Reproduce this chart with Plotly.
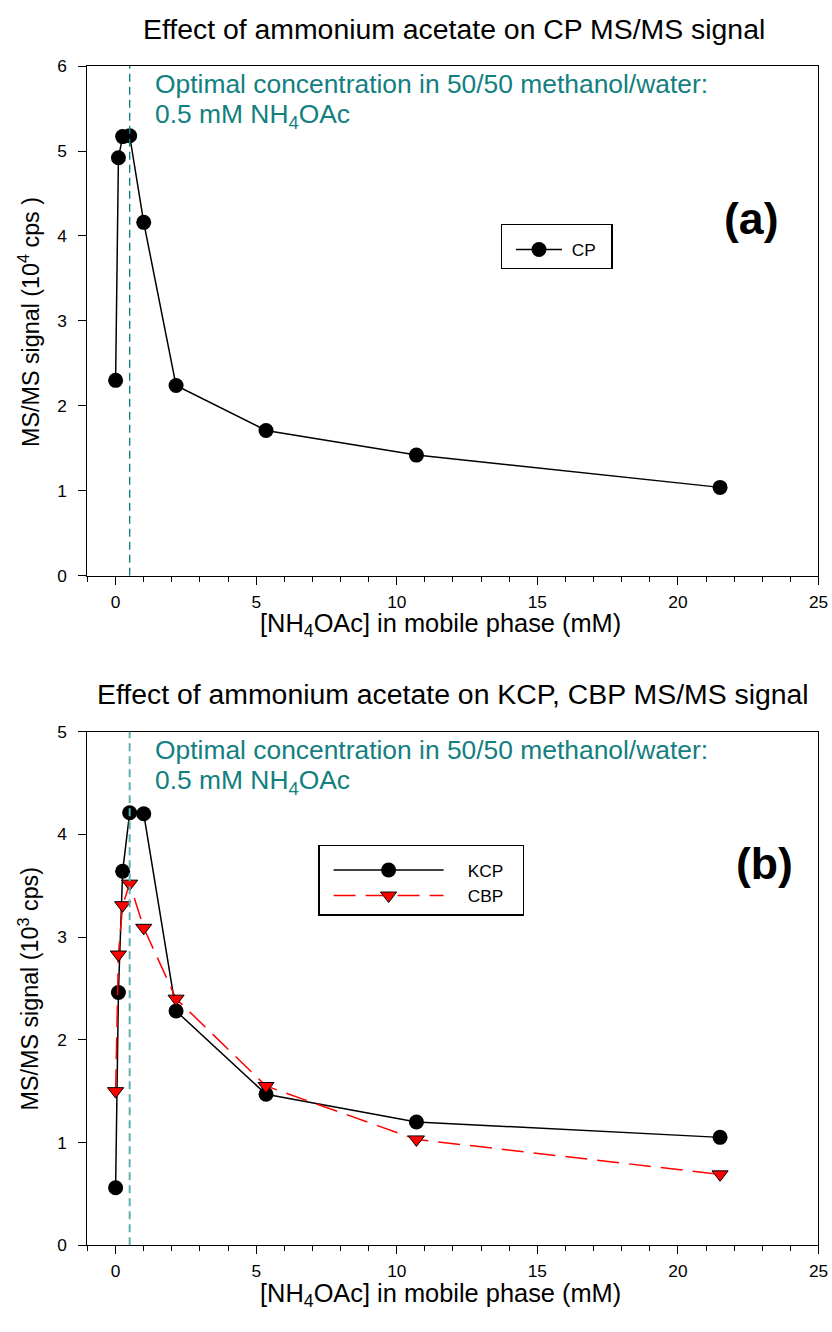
import plotly.graph_objects as go

# NH4OAc concentration in the mobile phase (mM)
conc = [0, 0.1, 0.25, 0.5, 1.0, 2.15, 5.35, 10.7, 21.5]

# MS/MS signal, panel (a) in 10^4 cps, panel (b) in 10^3 cps
cp = [2.30, 4.92, 5.17, 5.18, 4.16, 2.24, 1.71, 1.42, 1.04]
kcp = [0.56, 2.46, 3.64, 4.21, 4.20, 2.28, 1.47, 1.20, 1.05]
cbp = [1.50, 2.83, 3.31, 3.52, 3.09, 2.40, 1.55, 1.03, 0.69]

optimal_conc = 0.5
x_ticks = [0, 5, 10, 15, 20, 25]

# Figure size, and the factors between figure pixels and the displayed page
W, H = 832, 1316
SX, SY, TOP = 0.988, 0.9855, 8
FONT = "Arial, Liberation Sans, sans-serif"
TEAL = "#128080"
NB = "\u00a0"


def px(x):
    """Page x (px) -> paper fraction."""
    return (x / SX) / W


def py(y):
    """Page y (px) -> paper fraction."""
    return 1 - (y / SY - TOP) / H


def fs(size):
    return round(size / SY, 1)


fig = go.Figure()

fig.add_trace(go.Scatter(
    x=conc, y=cp, name=NB + "CP" + NB * 2, mode="lines+markers",
    line=dict(color="black", width=1.5),
    marker=dict(symbol="circle", size=15, color="black"),
    xaxis="x", yaxis="y", legend="legend",
))
fig.add_trace(go.Scatter(
    x=conc, y=kcp, name=NB * 4 + "KCP" + NB * 3, mode="lines+markers",
    line=dict(color="black", width=1.5),
    marker=dict(symbol="circle", size=15, color="black"),
    xaxis="x2", yaxis="y2", legend="legend2",
))
fig.add_trace(go.Scatter(
    x=conc, y=cbp, name=NB * 4 + "CBP" + NB * 3, mode="lines+markers",
    line=dict(color="#ff0000", width=1.5, dash="22px,10px"),
    marker=dict(symbol="triangle-down", size=14, color="#ff0000",
                line=dict(color="black", width=1)),
    xaxis="x2", yaxis="y2", legend="legend2",
))

x_dom = [px(87.5), px(818.5)]
axis_common = dict(
    showline=True, linecolor="black", linewidth=1.3, mirror=True,
    showgrid=False, zeroline=False, ticks="outside", ticklen=8,
    tickwidth=1.3, tickcolor="black",
    tickfont=dict(family=FONT, size=fs(17), color="black"),
)
xaxis_common = dict(
    axis_common, range=[-1, 25], tickvals=x_ticks,
    minor=dict(dtick=1, ticks="outside", ticklen=5, tickwidth=1.1,
               tickcolor="black"),
    ticklabelstandoff=2, ticklabeloverflow="allow",
)
yaxis_common = dict(axis_common, dtick=1, ticklabelstandoff=8)
legend_common = dict(
    xanchor="left", yanchor="top", indentation=9,
    bordercolor="black", borderwidth=1.3, bgcolor="white",
    font=dict(family=FONT, size=fs(17), color="black"),
    title=dict(text=NB, font=dict(size=5)),
)

fig.update_layout(
    width=W, height=H,
    margin=dict(l=0, r=0, t=0, b=0),
    paper_bgcolor="white", plot_bgcolor="white",
    font=dict(family=FONT, color="black"),
    showlegend=True,
    xaxis=dict(xaxis_common, domain=x_dom, anchor="y"),
    yaxis=dict(yaxis_common, domain=[py(574), py(64)], range=[0, 6], anchor="x"),
    xaxis2=dict(xaxis_common, domain=x_dom, anchor="y2"),
    yaxis2=dict(yaxis_common, domain=[py(1244), py(730)], range=[0, 5], anchor="x2"),
    legend=dict(legend_common, x=px(500.7), y=py(222), itemwidth=46),
    legend2=dict(legend_common, x=px(318.3), y=py(843), itemwidth=110),
)

# vertical marker at the optimal concentration
fig.add_shape(type="line", xref="x", yref="y", x0=optimal_conc, x1=optimal_conc,
              y0=0, y1=6, line=dict(color=TEAL, width=1.4, dash="8px,5px"))
fig.add_shape(type="line", xref="x2", yref="y2", x0=optimal_conc, x1=optimal_conc,
              y0=0, y1=5, line=dict(color="#5fb0b0", width=2, dash="8px,5px"))

annotations = []


def text(x, y, s, size, **kw):
    annotations.append(dict(
        x=px(x), y=py(y), xref="paper", yref="paper", text=s, showarrow=False,
        xanchor=kw.pop("xanchor", "center"), yanchor=kw.pop("yanchor", "middle"),
        font=dict(family=FONT, size=fs(size), color=kw.pop("color", "black")),
        **kw))


# panel titles
text(454, 27, "Effect of ammonium acetate on CP MS/MS signal", 28)
text(453, 692, "Effect of ammonium acetate on KCP, CBP MS/MS signal", 28)

# axis titles
text(441, 623, "[NH<sub>4</sub>OAc] in mobile phase (mM)", 25)
text(441, 1294, "[NH<sub>4</sub>OAc] in mobile phase (mM)", 25)
text(29, 320, "MS/MS signal (10<sup>4</sup> cps )", 23, textangle=-90)
text(29, 987, "MS/MS signal (10<sup>3</sup> cps)", 23, textangle=-90)

# optimal-concentration notes
line1 = "Optimal concentration in 50/50 methanol/water:"
line2 = "0.5 mM NH<sub>4</sub>OAc"
for top in (64, 730):
    text(153, top + 18, line1, 26, color=TEAL, xanchor="left")
    text(153, top + 50, line2, 26, color=TEAL, xanchor="left")

# panel labels
text(751.5, 217, "<b>(a)</b>", 44)
text(765, 862, "<b>(b)</b>", 44)

fig.update_layout(annotations=annotations)

fig.write_html("out.html")
